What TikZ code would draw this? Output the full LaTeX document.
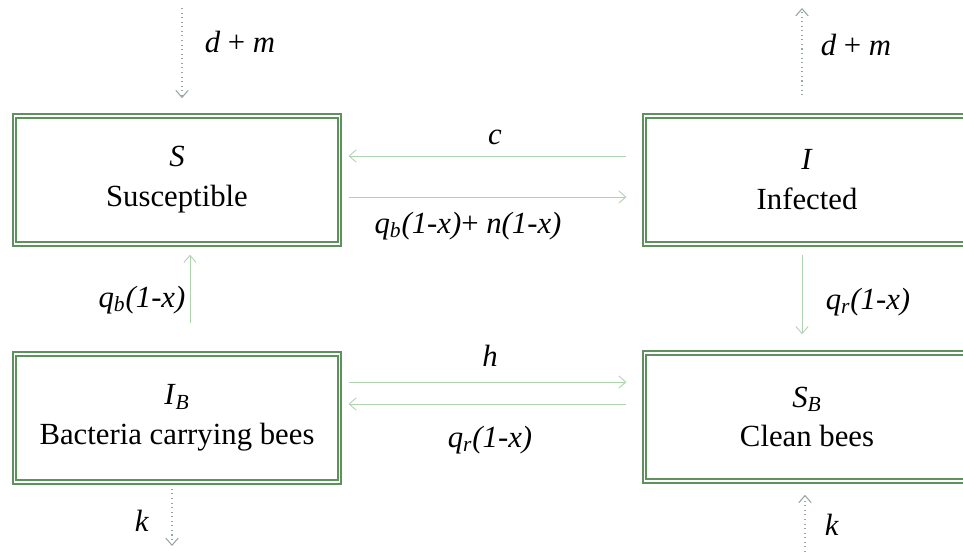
\documentclass[tikz,border=0pt]{standalone}
\usepackage{fontspec}
\setmainfont{Liberation Serif}
\usetikzlibrary{arrows.meta}
\definecolor{boxgreen}{RGB}{95,145,95}
\definecolor{flowgreen}{RGB}{175,210,175}
\definecolor{deathgrey}{RGB}{150,165,165}
\tikzset{
  compart/.style={draw=boxgreen, double, double distance=0.9pt, line width=1.2pt,
    minimum width=6.5cm, minimum height=2.55cm, align=center, inner sep=0pt},
  flow/.style={draw=flowgreen, line width=0.5pt, -{Straight Barb[length=4pt,width=7pt]}},
  death/.style={draw=deathgrey, dotted, line width=0.6pt, -{Straight Barb[length=4pt,width=7pt]}},
  rate/.style={inner sep=0pt}
}
\begin{document}
\begin{tikzpicture}[x=0.02cm, y=-0.02cm, font=\fontsize{17.5}{22.7}\selectfont]
	\useasboundingbox (0,0) rectangle (963,552);
	
	\node[compart] (S)  at (177,180) {\textit{S}\\Susceptible};
	\node[compart] (I)  at (807,180) {\textit{I}\\Infected};
	\node[compart] (IB) at (177,418) {\textit{I}\textsubscript{\textit{B}}\\Bacteria carrying bees};
	\node[compart] (SB) at (807,417) {\textit{S}\textsubscript{\textit{B}}\\Clean bees};
	
	\coordinate (dmS) at (182,8);
	\coordinate (dmI) at (802,8);
	\coordinate (kIB) at (172,546);
	\coordinate (kSB) at (805,552);
	
	% transfers between the compartments
	\draw[flow] ([shift={(-17,-24)}]I.west) -- ([shift={(8,-24)}]S.east);
	\draw[flow] ([shift={(8,17)}]S.east) -- ([shift={(-17,17)}]I.west);
	\draw[flow] ([shift={(13,-30)}]IB.north) -- ([shift={(13,10)}]S.south);
	\draw[flow] ([shift={(-5,10)}]I.south) -- ([shift={(-5,-18)}]SB.north);
	\draw[flow] ([shift={(8,-36)}]IB.east) -- ([shift={(-17,-35)}]SB.west);
	\draw[flow] ([shift={(-17,-13)}]SB.west) -- ([shift={(8,-14)}]IB.east);
	
	% births and deaths
	\draw[death] (dmS) -- ([shift={(5,-17)}]S.north);
	\draw[death] ([shift={(-5,-20)}]I.north) -- (dmI);
	\draw[death] ([shift={(-5,6)}]IB.south) -- (kIB);
	\draw[death] (kSB) -- ([shift={(-2,13)}]SB.south);
	
	\node[rate] (c)    at (495,137) {\textit{c}};
	\node[rate] (qbn)  at (468,226) {\textit{q\textsubscript{b}(1-x)}+ \textit{n(1-x)}};
	\node[rate] (qb)   at (142,300) {\textit{q\textsubscript{b}(1-x)}};
	\node[rate] (qrI)  at (868,302) {\textit{q\textsubscript{r}(1-x)}};
	\node[rate] (h)    at (490,356) {\textit{h}};
	\node[rate] (qrB)  at (490,440) {\textit{q\textsubscript{r}(1-x)}};
	\node[rate] (dmSl) at (240,42) {\textit{d} + \textit{m}};
	\node[rate] (dmIl) at (856,45) {\textit{d} + \textit{m}};
	\node[rate] (kIBl) at (142,521) {\textit{k}};
	\node[rate] (kSBl) at (832,525) {\textit{k}};
\end{tikzpicture}
\end{document}
